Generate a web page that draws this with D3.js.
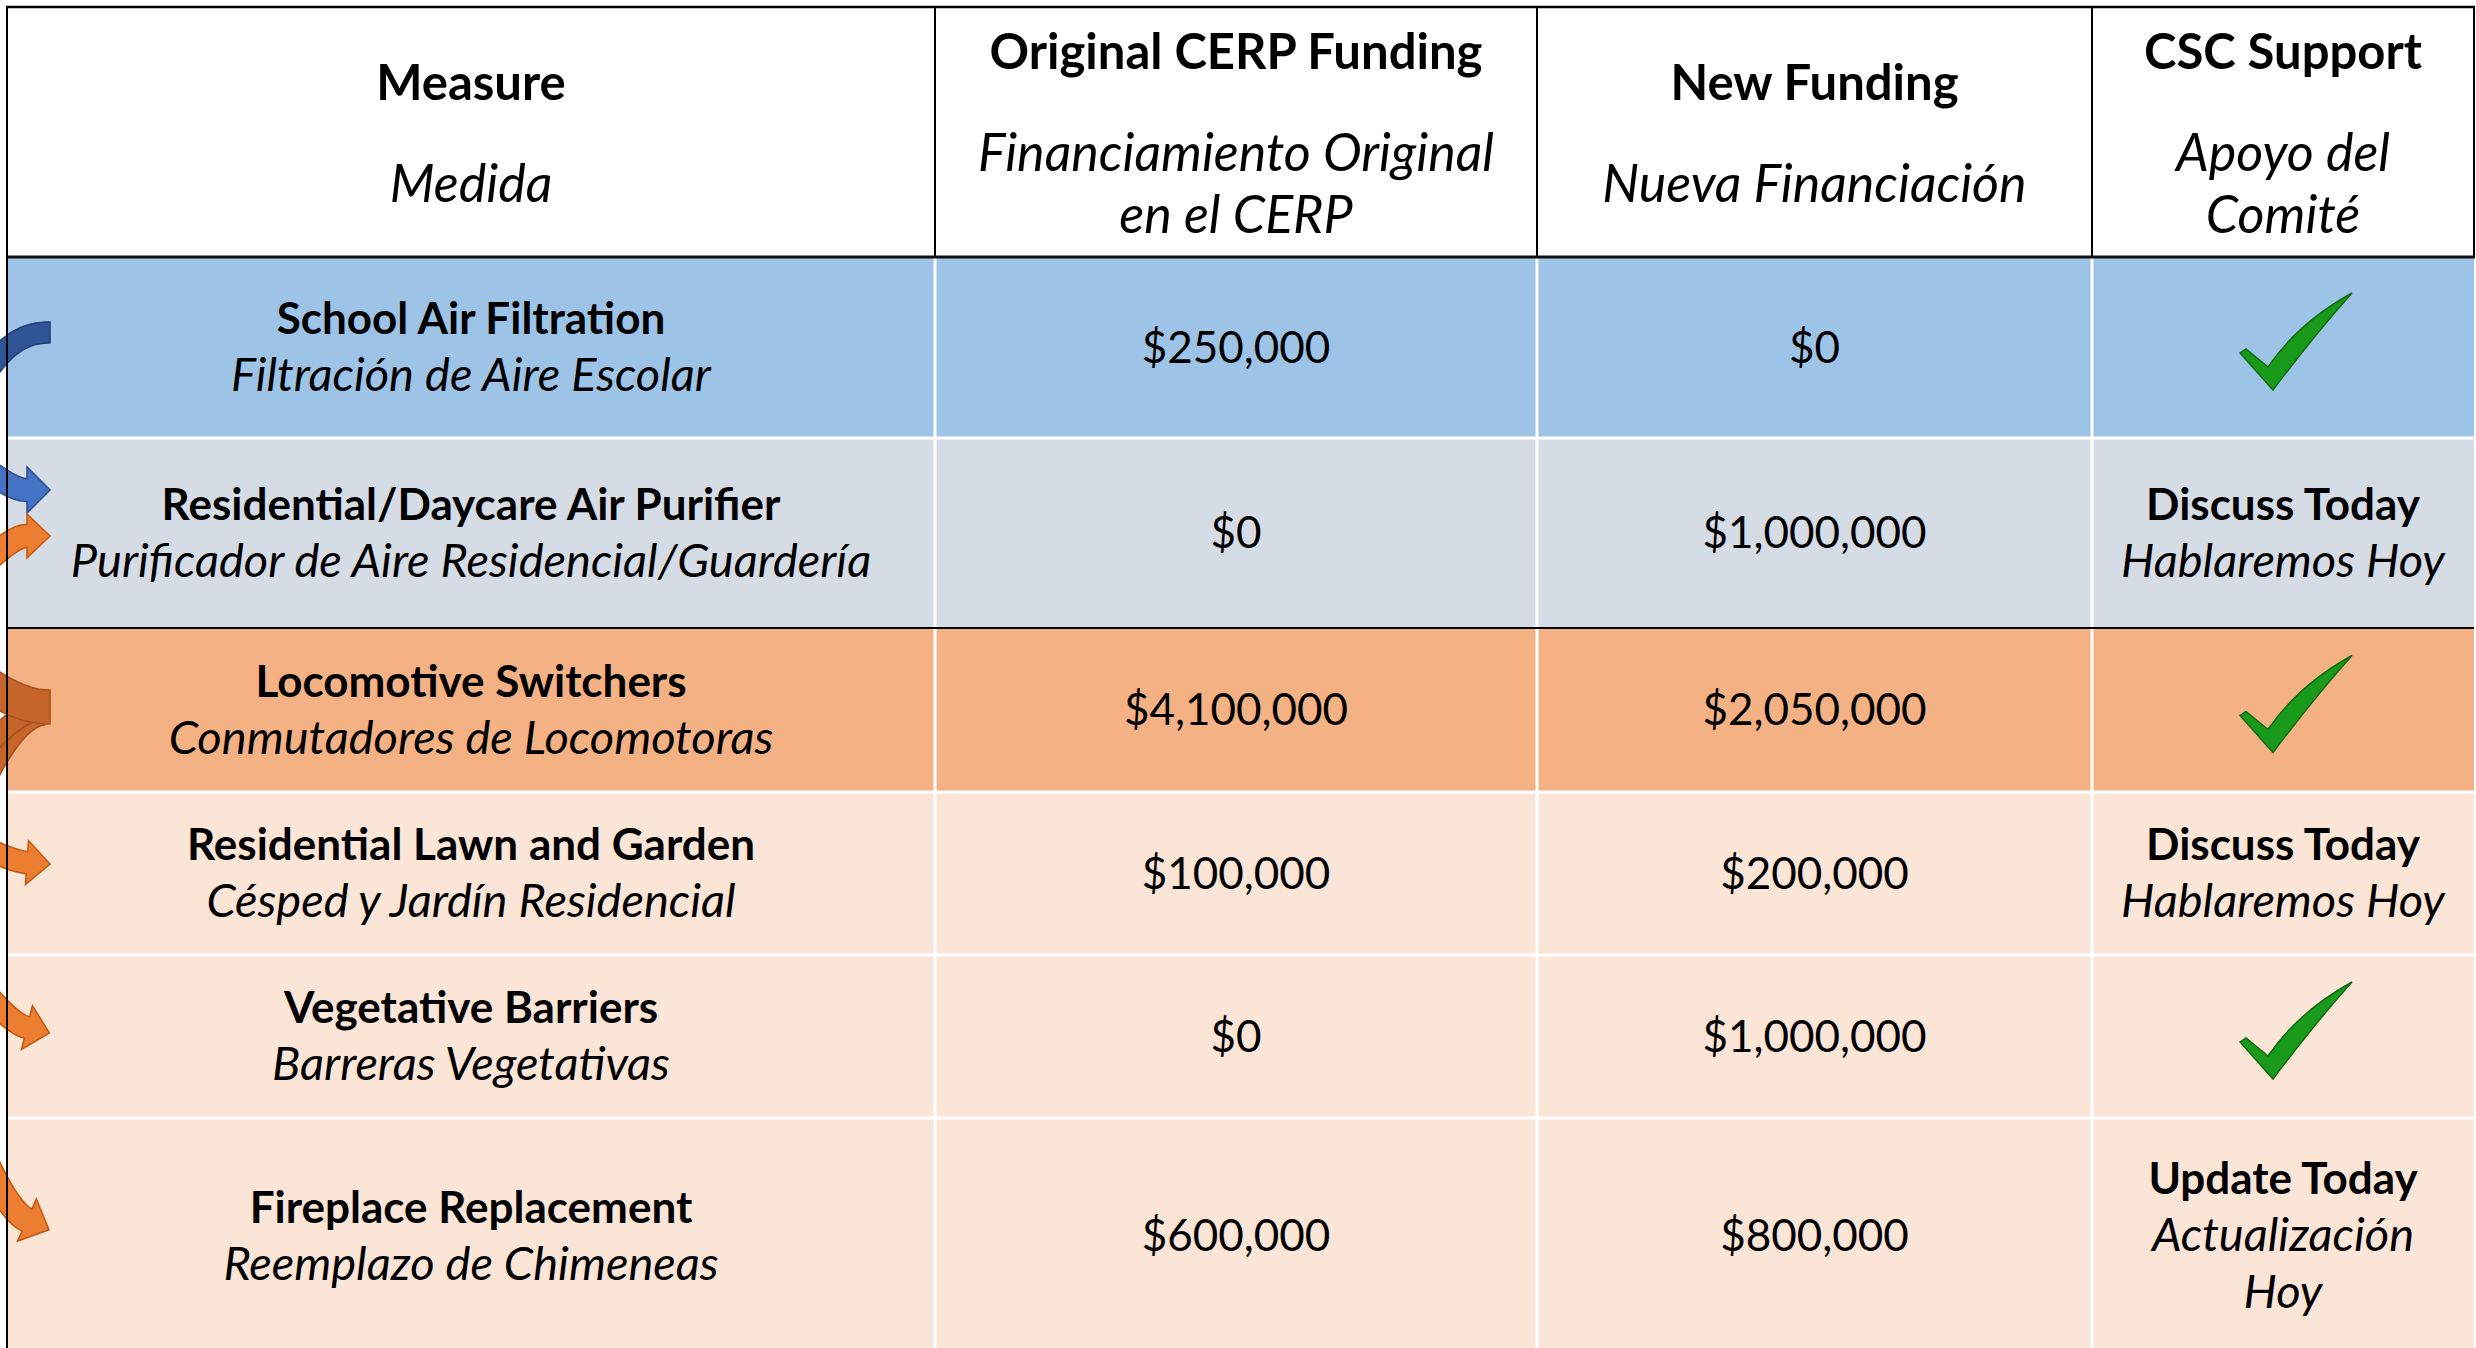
<!DOCTYPE html>
<html>
<head>
<meta charset="utf-8">
<script src="https://cdn.jsdelivr.net/npm/d3@7"></script>
<style>
  html, body { margin: 0; padding: 0; background: #fff; }
  svg { display: block; }
  text { font-family: Lato, "Open Sans", sans-serif; fill: #000; }
</style>
</head>
<body>
<div id="table"></div>
<script>
// ---- data ----
var headerEn = ["Measure", "Original CERP Funding", "New Funding", "CSC Support"];
var headerEs = [["Medida"], ["Financiamiento Original", "en el CERP"], ["Nueva Financiación"], ["Apoyo del", "Comité"]];

var measures = ["School Air Filtration", "Residential/Daycare Air Purifier", "Locomotive Switchers",
                "Residential Lawn and Garden", "Vegetative Barriers", "Fireplace Replacement"];
var measuresEs = ["Filtración de Aire Escolar", "Purificador de Aire Residencial/Guardería", "Conmutadores de Locomotoras",
                  "Césped y Jardín Residencial", "Barreras Vegetativas", "Reemplazo de Chimeneas"];
var originalFunding = [250000, 0, 4100000, 100000, 0, 600000];
var newFunding = [0, 1000000, 2050000, 200000, 1000000, 800000];
var support = ["check", "discuss", "check", "discuss", "check", "update"];
var supportEn = {discuss: ["Discuss Today"], update: ["Update Today"]};
var supportEs = {discuss: ["Hablaremos Hoy"], update: ["Actualización", "Hoy"]};

// arrows entering the table from the left edge
var arrows = [
  {row: 0, colour: "darkblue", shape: "tail"},
  {row: 1, colour: "blue", shape: "fromAbove"},
  {row: 1, colour: "orange", shape: "fromBelow"},
  {row: 2, colour: "brown", shape: "bundle"},
  {row: 3, colour: "orange", shape: "slight"},
  {row: 4, colour: "orange", shape: "medium"},
  {row: 5, colour: "orange", shape: "steep"}
];

// ---- layout ----
var W = 2476, H = 1348;
var tLeft = 7, tTop = 7;
var colWidths = [928, 602, 555, 382];
var headerH = 250;
var rowHeights = [181, 190, 164, 163, 163, 236];
var rowFills = ["#9DC3E6", "#D6DCE5", "#F4B183", "#FBE5D6", "#FBE5D6", "#FBE5D6"];

var colEdges = [tLeft].concat(Array.from(d3.cumsum(colWidths), function(d) { return tLeft + d; }));
var rowEdges = [tTop + headerH].concat(Array.from(d3.cumsum(rowHeights), function(d) { return tTop + headerH + d; }));
var tRight = colEdges[colEdges.length - 1];

var xCol = d3.scaleOrdinal().domain(d3.range(colWidths.length)).range(colEdges.slice(0, -1));
var yRow = d3.scaleOrdinal().domain(d3.range(rowHeights.length)).range(rowEdges.slice(0, -1));
var colMid = function(i) { return xCol(i) + colWidths[i] / 2; };
var rowMid = function(i) { return yRow(i) + rowHeights[i] / 2; };

var bodySize = 44, bodyItalic = 47, headSize = 49, headItalic = 52, lineH = 57;
var fmt = d3.format("$,");

var svg = d3.select("#table").append("svg")
    .attr("width", W)
    .attr("height", H);

// row backgrounds
svg.append("rect")
    .attr("x", tLeft).attr("y", tTop)
    .attr("width", tRight - tLeft).attr("height", headerH)
    .attr("fill", "#fff");

svg.append("g").selectAll("rect")
  .data(measures)
  .enter().append("rect")
    .attr("x", tLeft)
    .attr("y", function(d, i) { return yRow(i); })
    .attr("width", tRight - tLeft)
    .attr("height", function(d, i) { return rowHeights[i]; })
    .attr("fill", function(d, i) { return rowFills[i]; });

// ---- arrows on the left ----
var arrowColours = {
  darkblue: ["#2F5597", "#22407A"],
  blue: ["#4472C4", "#2F528F"],
  orange: ["#ED7D31", "#C55A11"],
  brown: ["#C5652B", "#A9521C"]
};

function bez(p, t) {
  var u = 1 - t;
  return [0, 1].map(function(k) {
    return u*u*u*p[0][k] + 3*u*u*t*p[1][k] + 3*u*t*t*p[2][k] + t*t*t*p[3][k];
  });
}
function bezD(p, t) {
  var u = 1 - t;
  return [0, 1].map(function(k) {
    return 3*u*u*(p[1][k]-p[0][k]) + 6*u*t*(p[2][k]-p[1][k]) + 3*t*t*(p[3][k]-p[2][k]);
  });
}
function bandPath(p, w, headW, headL) {
  var n = 40, a = [], b = [];
  for (var i = 0; i <= n; i++) {
    var t = i / n, pt = bez(p, t), d = bezD(p, t);
    var len = Math.hypot(d[0], d[1]), nx = -d[1] / len, ny = d[0] / len;
    a.push([pt[0] + nx * w / 2, pt[1] + ny * w / 2]);
    b.push([pt[0] - nx * w / 2, pt[1] - ny * w / 2]);
  }
  var pts = a.slice();
  if (headL) {
    var e = p[3], d = bezD(p, 1), len = Math.hypot(d[0], d[1]);
    var ux = d[0] / len, uy = d[1] / len, nx = -uy, ny = ux;
    pts.push([e[0] + nx * headW / 2, e[1] + ny * headW / 2]);
    pts.push([e[0] + ux * headL, e[1] + uy * headL]);
    pts.push([e[0] - nx * headW / 2, e[1] - ny * headW / 2]);
  }
  pts = pts.concat(b.reverse());
  return d3.line()(pts) + "Z";
}

// control points relative to the table's left edge and the row's middle
function arrowShape(shape, cy) {
  var L = tLeft, bx = L + 20;
  function headed(yc, p0, p1, ang) {
    var r = ang * Math.PI / 180;
    return [[L + p0[0], yc + p0[1]], [L + p1[0], yc + p1[1]],
            [bx - 15 * Math.cos(r), yc - 15 * Math.sin(r)], [bx, yc]];
  }
  switch (shape) {
    case "tail":
      return [{p: [[L - 40, cy + 60], [L - 10, cy - 2], [L + 15, cy - 15], [L + 43, cy - 15]], w: 21}];
    case "fromAbove":
      return [{p: headed(cy - 43, [-50, -45], [-20, -18], 0), w: 23, hw: 46, hl: 23}];
    case "fromBelow":
      return [{p: headed(cy + 3, [-50, 55], [-20, 24], 0), w: 23, hw: 44, hl: 23}];
    case "slight":
      return [{p: headed(cy - 11, [-50, -30], [-25, -15], 4), w: 22, hw: 44, hl: 23}];
    case "medium":
      return [{p: headed(cy - 9, [-45, -70], [-20, -28], 14), w: 22, hw: 45, hl: 23}];
    case "steep":
      return [{p: headed(cy - 16, [-35, -95], [-15, -38], 24), w: 24, hw: 46, hl: 24}];
    case "bundle":
      return [
        {p: [[L - 30, cy + 85], [L - 10, cy + 45], [L + 10, cy + 8], [L + 36, cy + 4]], w: 22},
        {p: [[L - 40, cy + 60], [L - 15, cy + 30], [L + 10, cy + 2], [L + 34, cy]], w: 20},
        {p: [[L - 40, cy - 40], [L - 10, cy - 18], [L + 15, cy - 3], [L + 43, cy - 3]], w: 34}
      ];
  }
}

var arrowG = svg.append("g");
arrows.forEach(function(a) {
  var c = arrowColours[a.colour];
  arrowShape(a.shape, rowMid(a.row)).forEach(function(s) {
    arrowG.append("path")
        .attr("d", bandPath(s.p, s.w, s.hw, s.hl))
        .attr("fill", c[0])
        .attr("stroke", c[1])
        .attr("stroke-width", 1.6)
        .attr("stroke-linejoin", "miter");
  });
});

// ---- grid lines ----
var grid = svg.append("g");
// white body lines
rowEdges.slice(1, -1).forEach(function(y, i) {
  if (i === 1) return;
  grid.append("line").attr("x1", tLeft).attr("x2", tRight).attr("y1", y).attr("y2", y)
      .attr("stroke", "#fff").attr("stroke-width", 3);
});
colEdges.slice(1, -1).forEach(function(x) {
  grid.append("line").attr("x1", x).attr("x2", x).attr("y1", tTop + headerH).attr("y2", H)
      .attr("stroke", "#fff").attr("stroke-width", 3);
});
// black lines
colEdges.slice(1).forEach(function(x) {
  grid.append("line").attr("x1", x).attr("x2", x).attr("y1", tTop).attr("y2", tTop + headerH)
      .attr("stroke", "#000").attr("stroke-width", 2);
});
grid.append("line").attr("x1", tLeft - 1).attr("x2", tRight + 1).attr("y1", tTop).attr("y2", tTop)
    .attr("stroke", "#000").attr("stroke-width", 2.5);
grid.append("line").attr("x1", tLeft).attr("x2", tRight + 1).attr("y1", tTop + headerH).attr("y2", tTop + headerH)
    .attr("stroke", "#111").attr("stroke-width", 3);
grid.append("line").attr("x1", tLeft).attr("x2", tRight).attr("y1", rowEdges[2]).attr("y2", rowEdges[2])
    .attr("stroke", "#000").attr("stroke-width", 2);
grid.append("line").attr("x1", tLeft).attr("x2", tLeft).attr("y1", tTop - 1).attr("y2", H)
    .attr("stroke", "#000").attr("stroke-width", 2);

// ---- header text ----
var head = svg.append("g").selectAll("g")
  .data(headerEn)
  .enter().append("g");

head.each(function(d, i) {
  var g = d3.select(this);
  var es = headerEs[i];
  var blockH = 102 + (es.length - 1) * 62;
  var y1 = tTop + 144 - blockH / 2;
  g.append("text")
      .attr("x", colMid(i)).attr("y", y1)
      .attr("text-anchor", "middle")
      .attr("font-size", headSize).attr("font-weight", "bold")
      .text(d);
  es.forEach(function(line, j) {
    g.append("text")
        .attr("x", colMid(i)).attr("y", y1 + 102 + j * 62)
        .attr("text-anchor", "middle")
        .attr("font-size", headItalic).attr("font-style", "italic")
        .text(line);
  });
});

// ---- body text ----
function cellLines(g, x, cy, lines) {
  var y1 = cy - (lines.length - 1) * lineH / 2 + 15;
  lines.forEach(function(l, j) {
    g.append("text")
        .attr("x", x).attr("y", y1 + j * lineH)
        .attr("text-anchor", "middle")
        .attr("font-size", l.italic ? bodyItalic : bodySize)
        .attr("font-weight", l.bold ? "bold" : null)
        .attr("font-style", l.italic ? "italic" : null)
        .text(l.t);
  });
}

var checkPath = "M0,60 L6,56 L28,74 Q58,30 112,0 Q76,40 33,97 Z";

var rows = svg.append("g").selectAll("g")
  .data(measures)
  .enter().append("g");

rows.each(function(d, i) {
  var g = d3.select(this), cy = rowMid(i);
  cellLines(g, colMid(0), cy, [{t: d, bold: true}, {t: measuresEs[i], italic: true}]);
  cellLines(g, colMid(1), cy, [{t: fmt(originalFunding[i])}]);
  cellLines(g, colMid(2), cy, [{t: fmt(newFunding[i])}]);
  var s = support[i];
  if (s === "check") {
    g.append("path")
        .attr("d", checkPath)
        .attr("transform", "translate(" + (colMid(3) + 13 - 56) + "," + (cy - 6 - 48.5) + ")")
        .attr("fill", "#1A9A1A")
        .attr("stroke", "#0E6B0E")
        .attr("stroke-width", 1.5);
  } else {
    var lines = supportEn[s].map(function(t) { return {t: t, bold: true}; })
      .concat(supportEs[s].map(function(t) { return {t: t, italic: true}; }));
    cellLines(g, colMid(3), cy, lines);
  }
});
</script>
</body>
</html>
